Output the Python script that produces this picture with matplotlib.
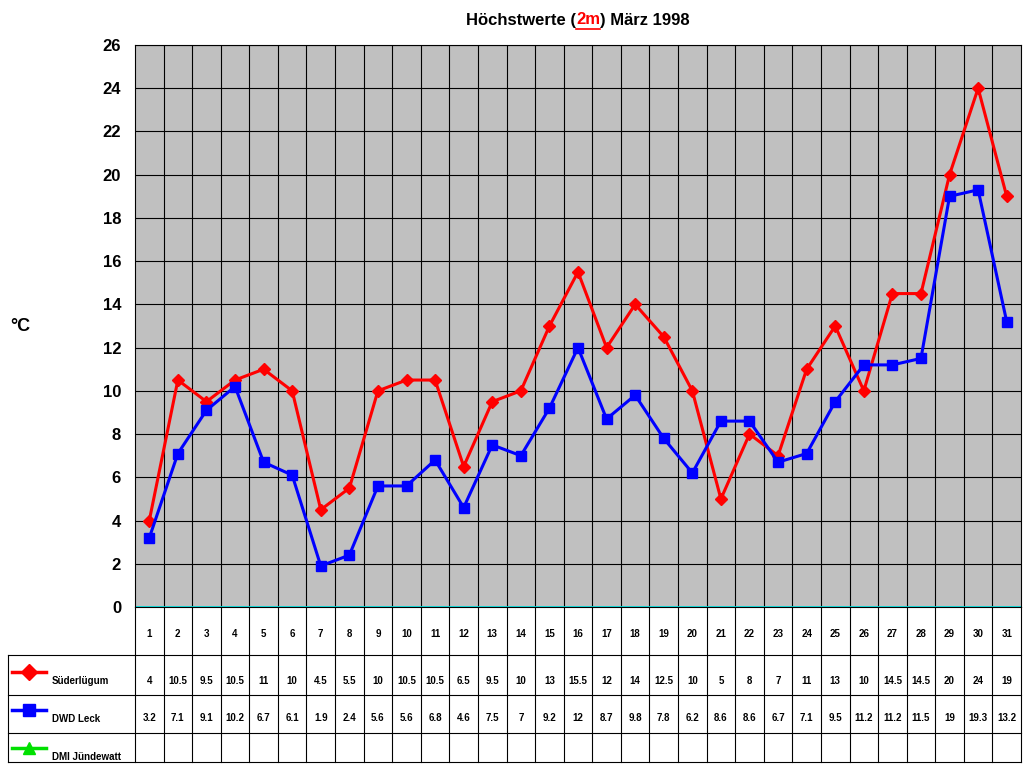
import matplotlib
matplotlib.use("Agg")
import matplotlib.pyplot as plt
import numpy as np

plt.rcParams['font.family'] = ['Liberation Sans', 'DejaVu Sans']

days = list(range(1, 32))
sued = [4,10.5,9.5,10.5,11,10,4.5,5.5,10,10.5,10.5,6.5,9.5,10,13,15.5,12,14,12.5,10,5,8,7,11,13,10,14.5,14.5,20,24,19]
leck = [3.2,7.1,9.1,10.2,6.7,6.1,1.9,2.4,5.6,5.6,6.8,4.6,7.5,7,9.2,12,8.7,9.8,7.8,6.2,8.6,8.6,6.7,7.1,9.5,11.2,11.2,11.5,19,19.3,13.2]
series = ["Süderlügum", "DWD Leck", "DMI Jündewatt"]

W, H = 1024, 768
fig = plt.figure(figsize=(W/100, H/100), dpi=100)
L, R, T, B = 135, 1021, 45, 607
ax = fig.add_axes([L/W, 1-B/H, (R-L)/W, (B-T)/H])
ax.set_facecolor("#c0c0c0")
x = np.array(days)
ax.set_xlim(0.5, 31.5)
ax.set_ylim(0, 26)
ax.set_yticks(range(0, 27, 2))
ax.set_xticks([])
for yv in range(2, 27, 2):
    ax.axhline(yv, color="black", lw=0.8, zorder=1)
for xv in np.arange(1.5, 31.5, 1):
    ax.axvline(xv, color="black", lw=0.8, zorder=1)
ax.axhline(0, color="#00e0e0", lw=2, zorder=2)
ax.plot(x, sued, color="red", lw=2.2, marker="D", ms=6.5, zorder=3)
ax.plot(x, leck, color="blue", lw=2.2, marker="s", ms=7.5, zorder=4)
for s in ax.spines.values():
    s.set_color("black")
ax.tick_params(axis="y", labelsize=12, length=0, pad=10)
for t in ax.get_yticklabels():
    t.set_fontweight("bold")
fig.text(10/W, 1-326/H, "°C", fontsize=13, fontweight="bold", ha="left", va="center")

# title
y0 = 1-20/H
fig.canvas.draw()
r = fig.canvas.get_renderer()
parts = [("Höchstwerte (", "black"), ("2m", "red"), (") März 1998", "black")]
arts = [fig.text(0, y0, p, fontsize=12, fontweight="bold", ha="left", va="center", color=c) for p, c in parts]
widths = [a.get_window_extent(r).width for a in arts]
xs = 578 - sum(widths)/2
for a, w in zip(arts, widths):
    a.set_x(xs/W)
    if a.get_color() == "red":
        fig.add_artist(plt.Line2D([xs/W, (xs+w)/W], [1-29/H, 1-29/H], color="red", lw=1.2))
    xs += w

# table
ta = fig.add_axes([0, 0, 1, 1], facecolor="none")
ta.set_xlim(0, W); ta.set_ylim(H, 0); ta.axis("off")
rows = [607, 655, 695, 733, 762]
cw = (R-L)/31
for yy in rows[1:]:
    ta.plot([8, R], [yy, yy], color="black", lw=0.8)
ta.plot([8, 8], [rows[1], rows[-1]], color="black", lw=0.8)
for i in range(32):
    xx = L + i*cw
    ta.plot([xx, xx], [rows[0], rows[-1]], color="black", lw=0.8)
for i, d in enumerate(days):
    cx = L + (i+0.5)*cw
    ta.text(cx, 634, str(d), fontsize=7, fontweight="bold", ha="center", va="center")
    ta.text(cx, 681, f"{sued[i]:g}", fontsize=7, fontweight="bold", ha="center", va="center")
    ta.text(cx, 718, f"{leck[i]:g}", fontsize=7, fontweight="bold", ha="center", va="center")
cols = ["red", "blue", "#00e000"]
marks = ["D", "s", "^"]
ys = [672, 710, 748]
for s, c, m, yy in zip(series, cols, marks, ys):
    ta.plot([12, 46], [yy, yy], color=c, lw=2.5)
    ta.plot([29], [yy], marker=m, color=c, ms=8)
    ta.text(52, yy+9, s, fontsize=7, fontweight="bold", ha="left", va="center")

fig.savefig("out.png", dpi=100)
